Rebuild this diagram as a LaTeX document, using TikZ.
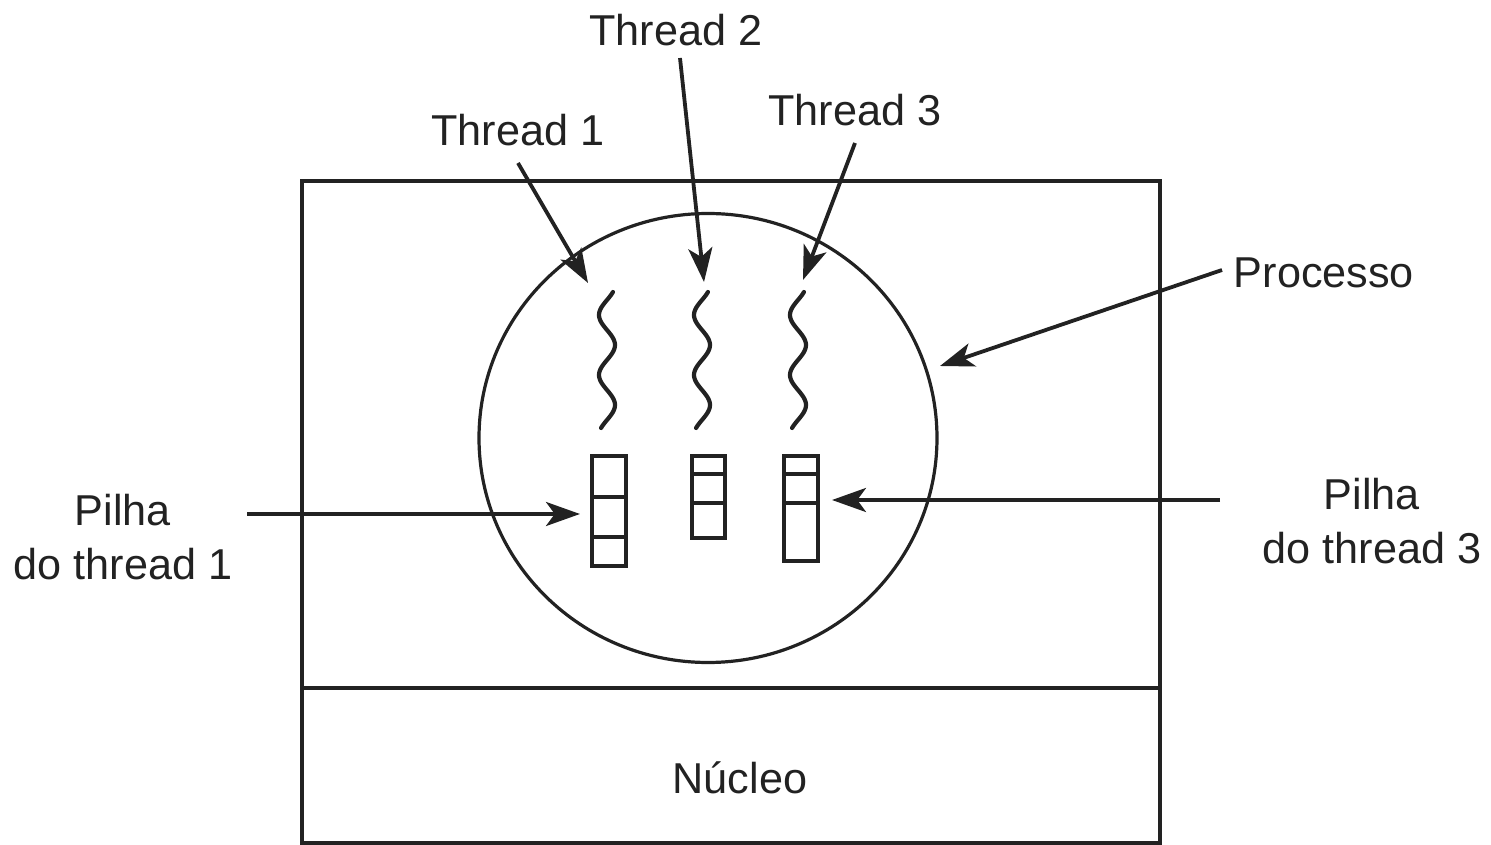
\documentclass[tikz,border=0pt]{standalone}
\usepackage{fontspec}
\setmainfont{Liberation Sans}
\usetikzlibrary{arrows.meta,shapes.geometric}
\definecolor{ink}{HTML}{222222}
\begin{document}
\begin{tikzpicture}[x=0.25pt,y=-0.25pt,
  lbl/.style={text=ink,font=\fontsize{10.8}{13}\selectfont,inner sep=0pt,align=center},
  frame/.style={draw=ink,line width=0.8pt},
  ptr/.style={draw=ink,line width=0.95pt,-{Stealth[length=8.5pt,width=6pt,inset=2.2pt]}},
  wave/.style={draw=ink,line width=1.05pt,line cap=round},
  stackbox/.style={draw=ink,line width=0.9pt}]
\useasboundingbox (0,0) rectangle (1491,845);
% process area and kernel
\draw[frame] (302,181) rectangle (1160,688);
\draw[frame] (302,688) rectangle (1160,843);
\node[lbl] (nucleo) at (740,778) {Núcleo};
% process circle
\node[draw=ink,line width=0.8pt,ellipse,inner sep=0pt,minimum width=114.5pt,minimum height=112.25pt] (proc) at (708,438) {};
% threads (wavy lines)
\foreach \xo/\nm in {607/w1,702/w2,798/w3}{
  \draw[wave] plot[variable=\t,domain=292:428,samples=80,smooth] ({\xo+8*cos(180*(\t-345)/30)},{\t});
  \coordinate (\nm) at (\xo,292);
}
% stacks
\draw[stackbox] (592,456) rectangle (626,566);
\draw[stackbox] (592,497) -- (626,497) (592,537) -- (626,537);
\draw[stackbox] (692,456) rectangle (725,538);
\draw[stackbox] (692,474) -- (725,474) (692,503) -- (725,503);
\draw[stackbox] (784,456) rectangle (818,561);
\draw[stackbox] (784,474) -- (818,474) (784,503) -- (818,503);
% labels
\node[lbl] (t2) at (676,30) {Thread 2};
\node[lbl] (t1) at (518,130) {Thread 1};
\node[lbl] (t3) at (855,110) {Thread 3};
\node[lbl,anchor=west] (pr) at (1233,273) {Processo};
\node[lbl] (p1) at (123,537) {Pilha\\[0.5pt]do thread 1};
\node[lbl] (p3) at (1372,521) {Pilha\\[0.5pt]do thread 3};
% arrow anchors
\coordinate (t1s) at (518,163);
\coordinate (t1e) at (588,283);
\coordinate (t2s) at (680,58);
\coordinate (t2e) at (704,282);
\coordinate (t3s) at (855,143);
\coordinate (t3e) at (803,280);
\coordinate (prs) at (1222,270);
\coordinate (pre) at (940,366);
\coordinate (p1s) at (247,514);
\coordinate (p1e) at (580,514);
\coordinate (p3s) at (1220,500);
\coordinate (p3e) at (832,500);
\draw[ptr] (t1s) -- (t1e);
\draw[ptr] (t2s) -- (t2e);
\draw[ptr] (t3s) -- (t3e);
\draw[ptr] (prs) -- (pre);
\draw[ptr] (p1s) -- (p1e);
\draw[ptr] (p3s) -- (p3e);
\end{tikzpicture}
\end{document}
